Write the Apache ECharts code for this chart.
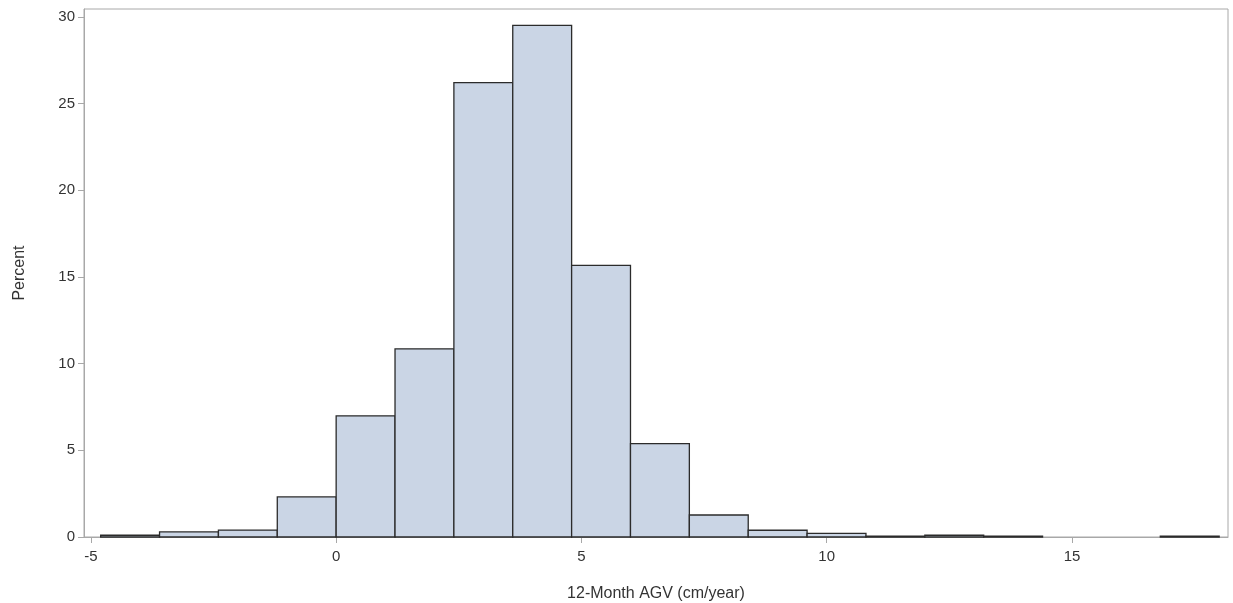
<!DOCTYPE html>
<html>
<head>
<meta charset="utf-8">
<title>12-Month AGV histogram</title>
<script src="https://cdn.jsdelivr.net/npm/echarts@6/dist/echarts.min.js"></script>
<style>
  html, body { margin: 0; padding: 0; background: #fff; }
  #chart { width: 1233px; height: 603px; }
</style>
</head>
<body>
<div id="chart"></div>
<script>
// Histogram bins: left edge of each bin (cm/year) and bin width
const binStarts = [-4.8, -3.6, -2.4, -1.2, 0, 1.2, 2.4, 3.6, 4.8, 6.0, 7.2, 8.4, 9.6, 10.8, 12.0, 13.2, 14.4, 15.6, 16.8];
const binWidth = 1.2;
// Percent of subjects in each bin
const percents = [0.1, 0.29, 0.4, 2.31, 6.99, 10.85, 26.2, 29.5, 15.66, 5.39, 1.27, 0.39, 0.21, 0.05, 0.1, 0.05, 0, 0, 0.05];
// Tick labels
const xTicks = [-5, 0, 5, 10, 15];
const yTicks = [0, 5, 10, 15, 20, 25, 30];

const data = binStarts.map((s, i) => [s, s + binWidth, percents[i]]);

const chart = echarts.init(document.getElementById('chart'), null, { renderer: 'canvas' });
const axisGray = '#a8a8a8';
const textColor = '#333333';
const fontFamily = '"Liberation Sans", Arial, sans-serif';

chart.setOption({
  animation: false,
  grid: {
    left: 84, right: 5, top: 9, bottom: 66,
    outerBoundsMode: 'none',
    containLabel: false,
    show: true, borderColor: axisGray, borderWidth: 1, backgroundColor: 'transparent'
  },
  xAxis: {
    type: 'value',
    min: -5.14, max: 18.18,
    name: '12-Month AGV (cm/year)',
    nameLocation: 'middle',
    nameGap: 49,
    nameTextStyle: { color: textColor, fontSize: 16, fontFamily },
    axisLine: { show: true, onZero: false, lineStyle: { color: axisGray } },
    axisTick: { show: true, length: 6, lineStyle: { color: axisGray }, customValues: xTicks },
    axisLabel: { color: textColor, fontSize: 15, fontFamily, margin: 12, customValues: xTicks },
    splitLine: { show: false }
  },
  yAxis: {
    type: 'value',
    min: 0, max: 30.45,
    name: 'Percent',
    nameLocation: 'middle',
    nameGap: 56,
    nameRotate: 90,
    nameTextStyle: { color: textColor, fontSize: 16, fontFamily },
    axisLine: { show: true, onZero: false, lineStyle: { color: axisGray } },
    axisTick: { show: true, length: 6, lineStyle: { color: axisGray }, customValues: yTicks },
    axisLabel: { color: textColor, fontSize: 15, fontFamily, margin: 9, customValues: yTicks },
    splitLine: { show: false }
  },
  series: [{
    type: 'custom',
    data: data,
    encode: { x: [0, 1], y: 2 },
    renderItem: function (params, api) {
      if (api.value(2) <= 0) return null;
      const start = api.coord([api.value(0), 0]);
      const end = api.coord([api.value(1), api.value(2)]);
      return {
        type: 'rect',
        shape: { x: start[0], y: end[1], width: end[0] - start[0], height: start[1] - end[1] },
        style: { fill: '#cad5e5', stroke: '#2b2b2b', lineWidth: 1.3 }
      };
    }
  }]
});
</script>
</body>
</html>
